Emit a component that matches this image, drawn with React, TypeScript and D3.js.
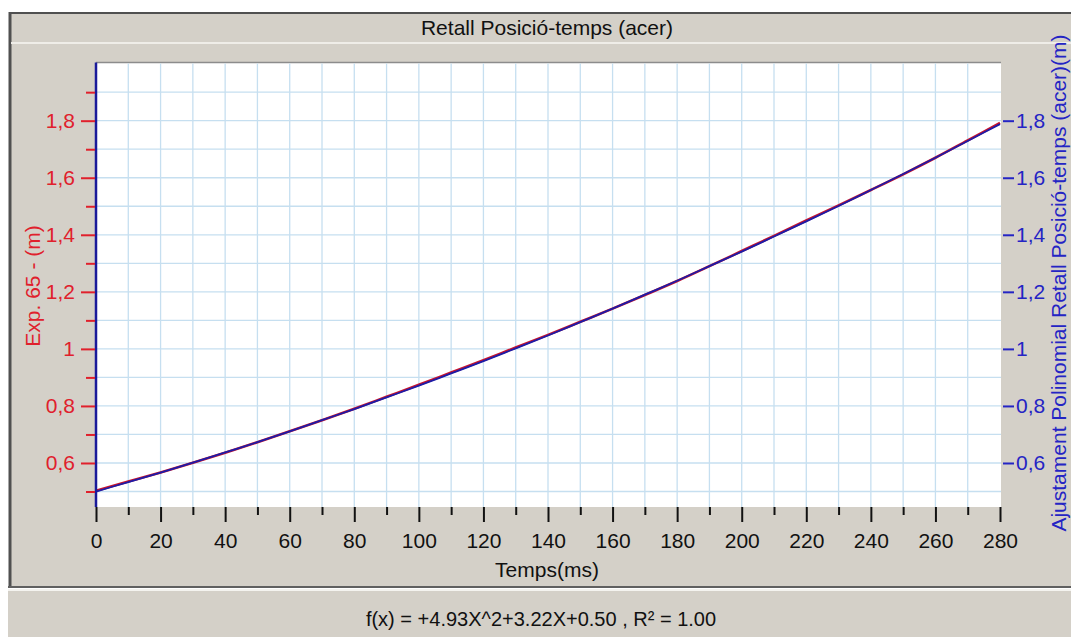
import React, { useRef, useEffect } from 'react';
import * as d3 from 'd3';

// time in ms, values in m
const TIMES = [0, 10, 20, 30, 40, 50, 60, 70, 80, 90, 100, 110, 120, 130, 140, 150, 160, 170, 180, 190, 200, 210, 220, 230, 240, 250, 260, 270, 280];
const EXP_VALUES = [0.503, 0.535, 0.567, 0.601, 0.636, 0.673, 0.711, 0.75, 0.79, 0.832, 0.874, 0.917, 0.96, 1.005, 1.049, 1.095, 1.141, 1.189, 1.238, 1.29, 1.343, 1.396, 1.45, 1.503, 1.557, 1.612, 1.67, 1.731, 1.792];
const FIT_VALUES = [0.5, 0.533, 0.566, 0.601, 0.637, 0.673, 0.711, 0.75, 0.789, 0.83, 0.871, 0.914, 0.957, 1.002, 1.047, 1.094, 1.141, 1.19, 1.239, 1.29, 1.341, 1.394, 1.447, 1.501, 1.557, 1.613, 1.67, 1.729, 1.788];

const X_MAJOR = [0, 20, 40, 60, 80, 100, 120, 140, 160, 180, 200, 220, 240, 260, 280];
const X_MINOR = [10, 30, 50, 70, 90, 110, 130, 150, 170, 190, 210, 230, 250, 270];
const X_GRID = [10, 20, 30, 40, 50, 60, 70, 80, 90, 100, 110, 120, 130, 140, 150, 160, 170, 180, 190, 200, 210, 220, 230, 240, 250, 260, 270];
const Y_MAJOR = [0.6, 0.8, 1, 1.2, 1.4, 1.6, 1.8];
const Y_MINOR = [0.5, 0.7, 0.9, 1.1, 1.3, 1.5, 1.7, 1.9];
const Y_GRID = [0.5, 0.6, 0.7, 0.8, 0.9, 1, 1.1, 1.2, 1.3, 1.4, 1.5, 1.6, 1.7, 1.8, 1.9];

const TITLE = 'Retall Posició-temps (acer)';
const X_TITLE = 'Temps(ms)';
const Y_TITLE = 'Exp. 65 - (m)';
const Y2_TITLE = 'Ajustament Polinomial Retall Posició-temps (acer)(m)';
const FORMULA = 'f(x) = +4.93X^2+3.22X+0.50 ,  R² = 1.00';

const FONT = "'Liberation Sans', Arial, sans-serif";
const RED = '#e0202c';
const BLUE = '#2424c4';
const GRAY = '#d4d0c8';

const fmt = (v: number) => String(+v.toFixed(1)).replace('.', ',');

export default function App() {
  const svgRef = useRef<SVGSVGElement>(null);

  useEffect(() => {
    const W = 1071;
    const H = 637;
    const plot = { left: 96, right: 1001, top: 62.5, bottom: 507 };

    const svg = d3.select(svgRef.current);
    svg.selectAll('*').remove();
    svg.attr('width', W).attr('height', H);

    // window frame
    svg.append('rect').attr('width', W).attr('height', H).attr('fill', '#fff');
    svg.append('rect').attr('x', 9).attr('y', 12).attr('width', W).attr('height', 576).attr('fill', GRAY);
    svg.append('line').attr('x1', 10).attr('x2', W).attr('y1', 13).attr('y2', 13).attr('stroke', '#505050').attr('stroke-width', 2);
    svg.append('line').attr('x1', 10).attr('x2', 10).attr('y1', 12).attr('y2', 588).attr('stroke', '#505050').attr('stroke-width', 3);
    svg.append('line').attr('x1', 11).attr('x2', W).attr('y1', 43).attr('y2', 43).attr('stroke', '#efede8').attr('stroke-width', 2);
    svg.append('line').attr('x1', 8).attr('x2', W).attr('y1', 587).attr('y2', 587).attr('stroke', '#606060').attr('stroke-width', 2);
    svg.append('line').attr('x1', 8).attr('x2', W).attr('y1', 590).attr('y2', 590).attr('stroke', '#f4f3ef').attr('stroke-width', 2);
    svg.append('rect').attr('x', 8).attr('y', 591).attr('width', W).attr('height', H - 591).attr('fill', GRAY);

    // plot background
    svg.append('rect')
      .attr('x', plot.left).attr('y', plot.top)
      .attr('width', plot.right - plot.left).attr('height', plot.bottom - plot.top)
      .attr('fill', '#fff');
    svg.append('line').attr('x1', plot.left).attr('x2', plot.right).attr('y1', plot.top).attr('y2', plot.top)
      .attr('stroke', '#8c8c8c').attr('stroke-width', 1.5);

    const x = d3.scaleLinear().domain([0, 280]).range([plot.left, plot.right - 1]);
    const y = d3.scaleLinear().domain([0.4457, 2.004]).range([plot.bottom, plot.top]);

    // grid
    const g = svg.append('g');
    g.selectAll('.vg').data(X_GRID).join('line')
      .attr('x1', (d) => x(d)).attr('x2', (d) => x(d))
      .attr('y1', plot.top + 1).attr('y2', plot.bottom)
      .attr('stroke', '#c6dff0').attr('stroke-width', 1.3);
    g.selectAll('.hg').data(Y_GRID).join('line')
      .attr('x1', plot.left).attr('x2', plot.right)
      .attr('y1', (d) => y(d)).attr('y2', (d) => y(d))
      .attr('stroke', '#c6dff0').attr('stroke-width', 1.3);

    // series
    const line = d3.line<number>().x((_, i) => x(TIMES[i])).y((d) => y(d)).curve(d3.curveMonotoneX);
    svg.append('path').datum(EXP_VALUES).attr('d', line).attr('fill', 'none')
      .attr('stroke', '#c8142e').attr('stroke-width', 2.6);
    svg.append('path').datum(FIT_VALUES).attr('d', line).attr('fill', 'none')
      .attr('stroke', '#1c1ca8').attr('stroke-width', 1.8);

    // left axis line
    svg.append('line').attr('x1', plot.left).attr('x2', plot.left).attr('y1', plot.top).attr('y2', plot.bottom)
      .attr('stroke', '#1a1a9a').attr('stroke-width', 2.5);

    const styleAxis = (sel: any, color: string, size: number) => {
      sel.select('.domain').remove();
      sel.selectAll('line').attr('stroke', color).attr('stroke-width', 2);
      sel.selectAll('text').attr('fill', color).attr('font-family', FONT).attr('font-size', size);
    };

    // x axis
    svg.append('g').attr('transform', `translate(0,${plot.bottom})`)
      .call(d3.axisBottom(x).tickValues(X_MAJOR).tickSize(15).tickPadding(11).tickFormat((d) => String(d)))
      .call((s) => styleAxis(s, '#111', 21));
    svg.append('g').attr('transform', `translate(0,${plot.bottom})`)
      .call(d3.axisBottom(x).tickValues(X_MINOR).tickSize(8).tickFormat(() => ''))
      .call((s) => styleAxis(s, '#111', 21));

    // left axis
    svg.append('g').attr('transform', `translate(${plot.left - 1},0)`)
      .call(d3.axisLeft(y).tickValues(Y_MAJOR).tickSize(14).tickPadding(6).tickFormat((d) => fmt(+d)))
      .call((s) => styleAxis(s, RED, 21));
    svg.append('g').attr('transform', `translate(${plot.left - 1},0)`)
      .call(d3.axisLeft(y).tickValues(Y_MINOR).tickSize(9).tickFormat(() => ''))
      .call((s) => styleAxis(s, RED, 21));

    // right axis
    svg.append('g').attr('transform', `translate(${plot.right + 2},0)`)
      .call(d3.axisRight(y).tickValues(Y_MAJOR).tickSize(11).tickPadding(2).tickFormat((d) => fmt(+d)))
      .call((s) => styleAxis(s, BLUE, 21));

    // texts
    svg.append('text').attr('x', 547).attr('y', 35).attr('text-anchor', 'middle')
      .attr('font-family', FONT).attr('font-size', 21).attr('fill', '#111').text(TITLE);
    svg.append('text').attr('x', 547).attr('y', 577).attr('text-anchor', 'middle')
      .attr('font-family', FONT).attr('font-size', 21).attr('fill', '#111').text(X_TITLE);
    svg.append('text').attr('x', 541).attr('y', 626).attr('text-anchor', 'middle')
      .attr('font-family', FONT).attr('font-size', 20).attr('fill', '#111').text(FORMULA);
    svg.append('text').attr('transform', 'translate(40,286) rotate(-90)').attr('text-anchor', 'middle')
      .attr('font-family', FONT).attr('font-size', 21).attr('fill', RED).text(Y_TITLE);
    svg.append('text').attr('transform', 'translate(1066,283) rotate(-90)').attr('text-anchor', 'middle')
      .attr('font-family', FONT).attr('font-size', 21).attr('fill', BLUE).text(Y2_TITLE);
  }, []);

  return (
    <div style={{ position: 'absolute', left: 0, top: 0 }}>
      <svg ref={svgRef} style={{ display: 'block' }} />
    </div>
  );
}
